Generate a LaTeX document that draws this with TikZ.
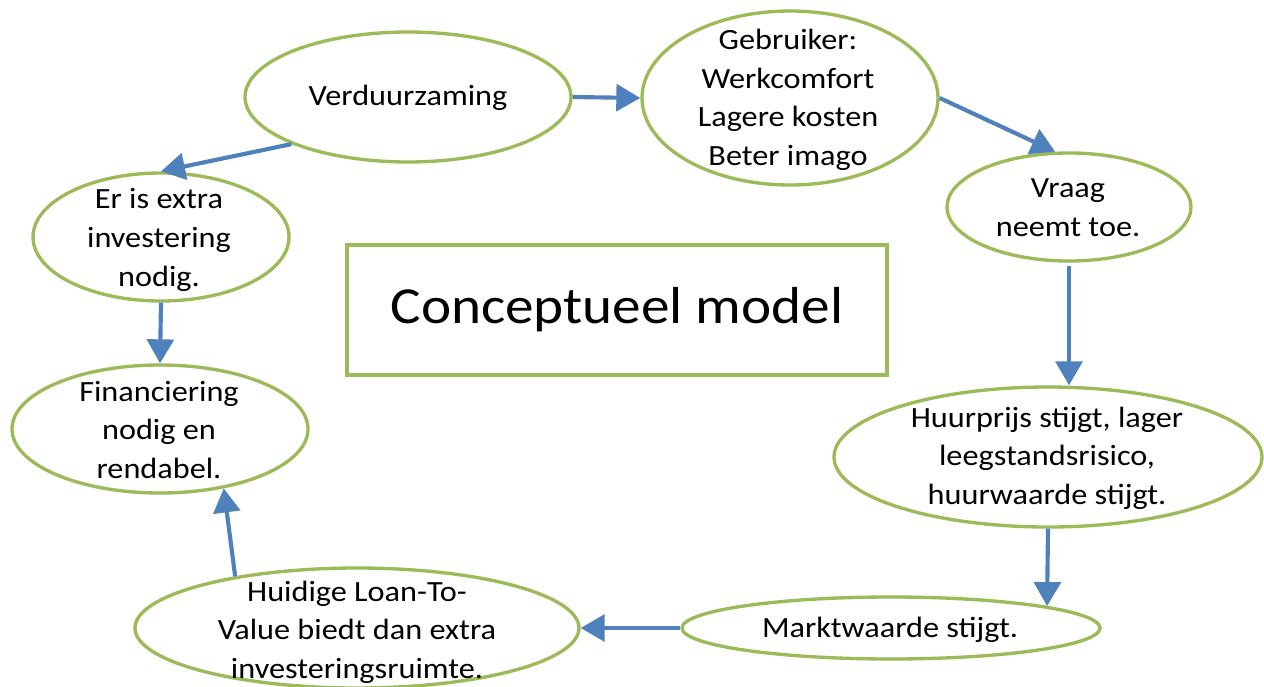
\documentclass[tikz,border=0pt]{standalone}
\usepackage{fontspec}
\setmainfont{Carlito}[FakeStretch=1.1]
\usetikzlibrary{shapes.geometric,arrows.meta}
\definecolor{ogreen}{HTML}{9BBB59}
\definecolor{oblue}{HTML}{4F81BD}
\tikzset{
  ell/.style={ellipse, draw=ogreen, line width=2.5pt, fill=white, inner sep=0pt},
  txt/.style={align=center, inner sep=0pt, font=\fontsize{22}{29}\selectfont},
  conn/.style={draw=oblue, line width=3.1pt, -{Triangle[length=18pt,width=20pt]}},
}
\begin{document}
\begin{tikzpicture}[x=0.75pt,y=-0.75pt]
\useasboundingbox[fill=white] (0,0) rectangle (1264,686);
% ellipses
\node[ell, minimum width=244.5pt, minimum height=97.5pt] (v) at (408,97) {};
\node[ell, minimum width=222pt, minimum height=130.5pt] (g) at (790,98) {};
\node[ell, minimum width=183pt, minimum height=81pt] (vr) at (1069,207) {};
\node[ell, minimum width=192pt, minimum height=96pt] (e) at (161,237) {};
\node[ell, minimum width=222pt, minimum height=96pt] (f) at (160,429) {};
\node[ell, minimum width=333pt, minimum height=90pt] (hu) at (357,628) {};
\node[ell, minimum width=321pt, minimum height=105pt] (h) at (1048,457) {};
\node[ell, minimum width=313.5pt, minimum height=46.5pt] (m) at (891,628) {};
\node[draw=ogreen, line width=2.5pt, minimum width=405pt, minimum height=97.5pt, inner sep=0pt,
      font=\fontsize{39}{47}\selectfont] (c) at (617,310) {Conceptueel model};
% texts
\node[txt] (v-t) at (408,98) {Verduurzaming};
\node[txt] (g-t) at (788,100) {Gebruiker:\\Werkcomfort\\Lagere kosten\\Beter imago};
\node[txt] (vr-t) at (1068,208) {Vraag\\neemt toe.};
\node[txt] (e-t) at (159,240) {Er is extra\\investering\\nodig.};
\node[txt] (f-t) at (159,430) {Financiering\\nodig en\\rendabel.};
\node[txt] (hu-t) at (357,632) {Huidige Loan-To-\\Value biedt dan extra\\investeringsruimte.};
\node[txt] (h-t) at (1047,458) {Huurprijs stijgt, lager\\leegstandsrisico,\\huurwaarde stijgt.};
\node[txt] (m-t) at (890,630) {Marktwaarde stijgt.};
% connectors
\draw[conn] (v.east) -- (g.west);
\draw[conn] (g.east) -- (vr.104);
\draw[conn] (vr.south) ++(0,3) -- (vr.south |- h.north);
\draw[conn] (h.south) -- (m.8.5);
\draw[conn] (m.west) -- (hu.east);
\draw[conn] (hu.157) -- (f.-43);
\draw[conn] (v.202) -- (e.north);
\draw[conn] (e.south) -- (f.north);
\end{tikzpicture}
\end{document}
